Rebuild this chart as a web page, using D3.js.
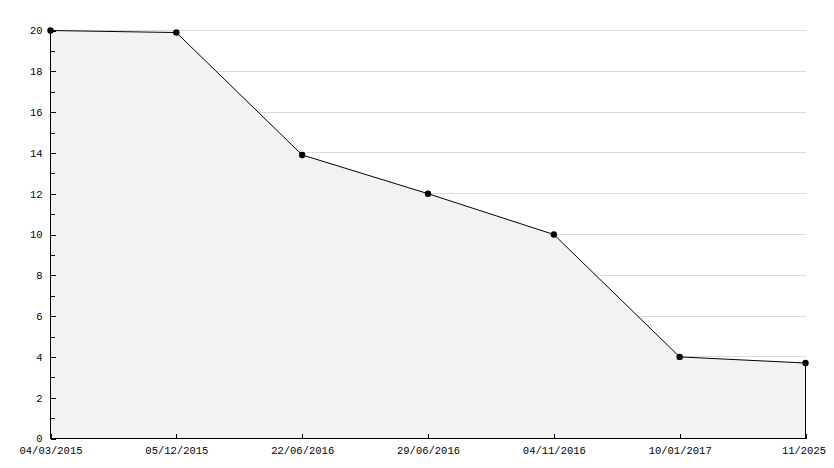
<!DOCTYPE html>
<html>
<head>
<meta charset="utf-8">
<script src="https://cdn.jsdelivr.net/npm/d3@7"></script>
<style>
  body { margin: 0; background: #fff; }
  text { font-family: "Liberation Mono", "DejaVu Sans Mono", monospace; font-size: 10.5px; fill: #000; }
</style>
</head>
<body>
<div id="chart"></div>
<script>
// data
var dates = ["04/03/2015", "05/12/2015", "22/06/2016", "29/06/2016", "04/11/2016", "10/01/2017", "11/2025"];
var values = [20, 19.9, 13.9, 12, 10, 4, 3.7];
var yTicks = [0, 2, 4, 6, 8, 10, 12, 14, 16, 18, 20];
var yMinor = [1, 3, 5, 7, 9, 11, 13, 15, 17, 19];

var w = 834, h = 468;
// (window.top is read-only, so no "top" here)
var plotL = 50.5, plotR = 805.5, plotT = 30.5, plotB = 438.5;

var svg = d3.select("#chart")
  .append("svg")
  .attr("width", w)
  .attr("height", h);

var x = d3.scalePoint()
  .domain(dates)
  .range([plotL, plotR]);

var y = d3.scaleLinear()
  .domain([0, 20])
  .range([plotB, plotT]);

var pts = dates.map(function(d, i){ return { date: d, v: values[i] }; });

// gridlines
svg.append("g")
  .selectAll("line")
  .data(yTicks.filter(function(t){ return t > 0; }))
  .enter()
  .append("line")
  .attr("x1", plotL)
  .attr("x2", plotR)
  .attr("y1", function(d){ return y(d); })
  .attr("y2", function(d){ return y(d); })
  .style("stroke", "#dcdcdc")
  .style("shape-rendering", "crispEdges");

// area
var area = d3.area()
  .x(function(d){ return x(d.date); })
  .y0(y(0))
  .y1(function(d){ return y(d.v); });

svg.append("path")
  .datum(pts)
  .attr("d", area)
  .style("fill", "#f2f2f2");

var line = d3.line()
  .x(function(d){ return x(d.date); })
  .y(function(d){ return y(d.v); });

svg.append("path")
  .datum(pts)
  .attr("d", line)
  .style("fill", "none")
  .style("stroke", "#000")
  .style("stroke-width", 1);

// right edge of area
svg.append("line")
  .attr("x1", x(dates[dates.length - 1]))
  .attr("x2", x(dates[dates.length - 1]))
  .attr("y1", y(values[values.length - 1]))
  .attr("y2", plotB)
  .style("stroke", "#000")
  .style("shape-rendering", "crispEdges");

// y axis
var gy = svg.append("g")
  .attr("transform", "translate(" + plotL + ",0)")
  .call(d3.axisRight(y).tickValues(yTicks).tickSize(5).tickFormat(d3.format("d")));
gy.select(".domain").remove();
gy.selectAll("line").style("shape-rendering", "crispEdges");
gy.selectAll("text")
  .attr("x", -8)
  .attr("dy", "0.32em")
  .style("text-anchor", "end");

var gym = svg.append("g")
  .attr("transform", "translate(" + plotL + ",0)")
  .call(d3.axisRight(y).tickValues(yMinor).tickSize(4).tickFormat(""));
gym.select(".domain").remove();
gym.selectAll("line").style("shape-rendering", "crispEdges");

// x axis
var gx = svg.append("g")
  .attr("transform", "translate(0," + plotB + ")")
  .call(d3.axisTop(x).tickSize(5));
gx.select(".domain").remove();
gx.selectAll("line").style("shape-rendering", "crispEdges");
gx.selectAll("text")
  .attr("y", 15.5)
  .attr("dy", "0")
  .style("text-anchor", function(d, i){ return i === dates.length - 1 ? "end" : "middle"; })
  .attr("dx", function(d, i){ return i === dates.length - 1 ? 20 : 0; });

// axis lines
svg.append("line")
  .attr("x1", plotL).attr("x2", plotL)
  .attr("y1", plotT).attr("y2", plotB)
  .style("stroke", "#000").style("shape-rendering", "crispEdges");
svg.append("line")
  .attr("x1", plotL).attr("x2", plotR)
  .attr("y1", plotB).attr("y2", plotB)
  .style("stroke", "#000").style("shape-rendering", "crispEdges");

// markers
svg.append("g")
  .selectAll("circle")
  .data(pts)
  .enter()
  .append("circle")
  .attr("cx", function(d){ return x(d.date); })
  .attr("cy", function(d){ return y(d.v); })
  .attr("r", 3.2)
  .style("fill", "#000");
</script>
</body>
</html>
